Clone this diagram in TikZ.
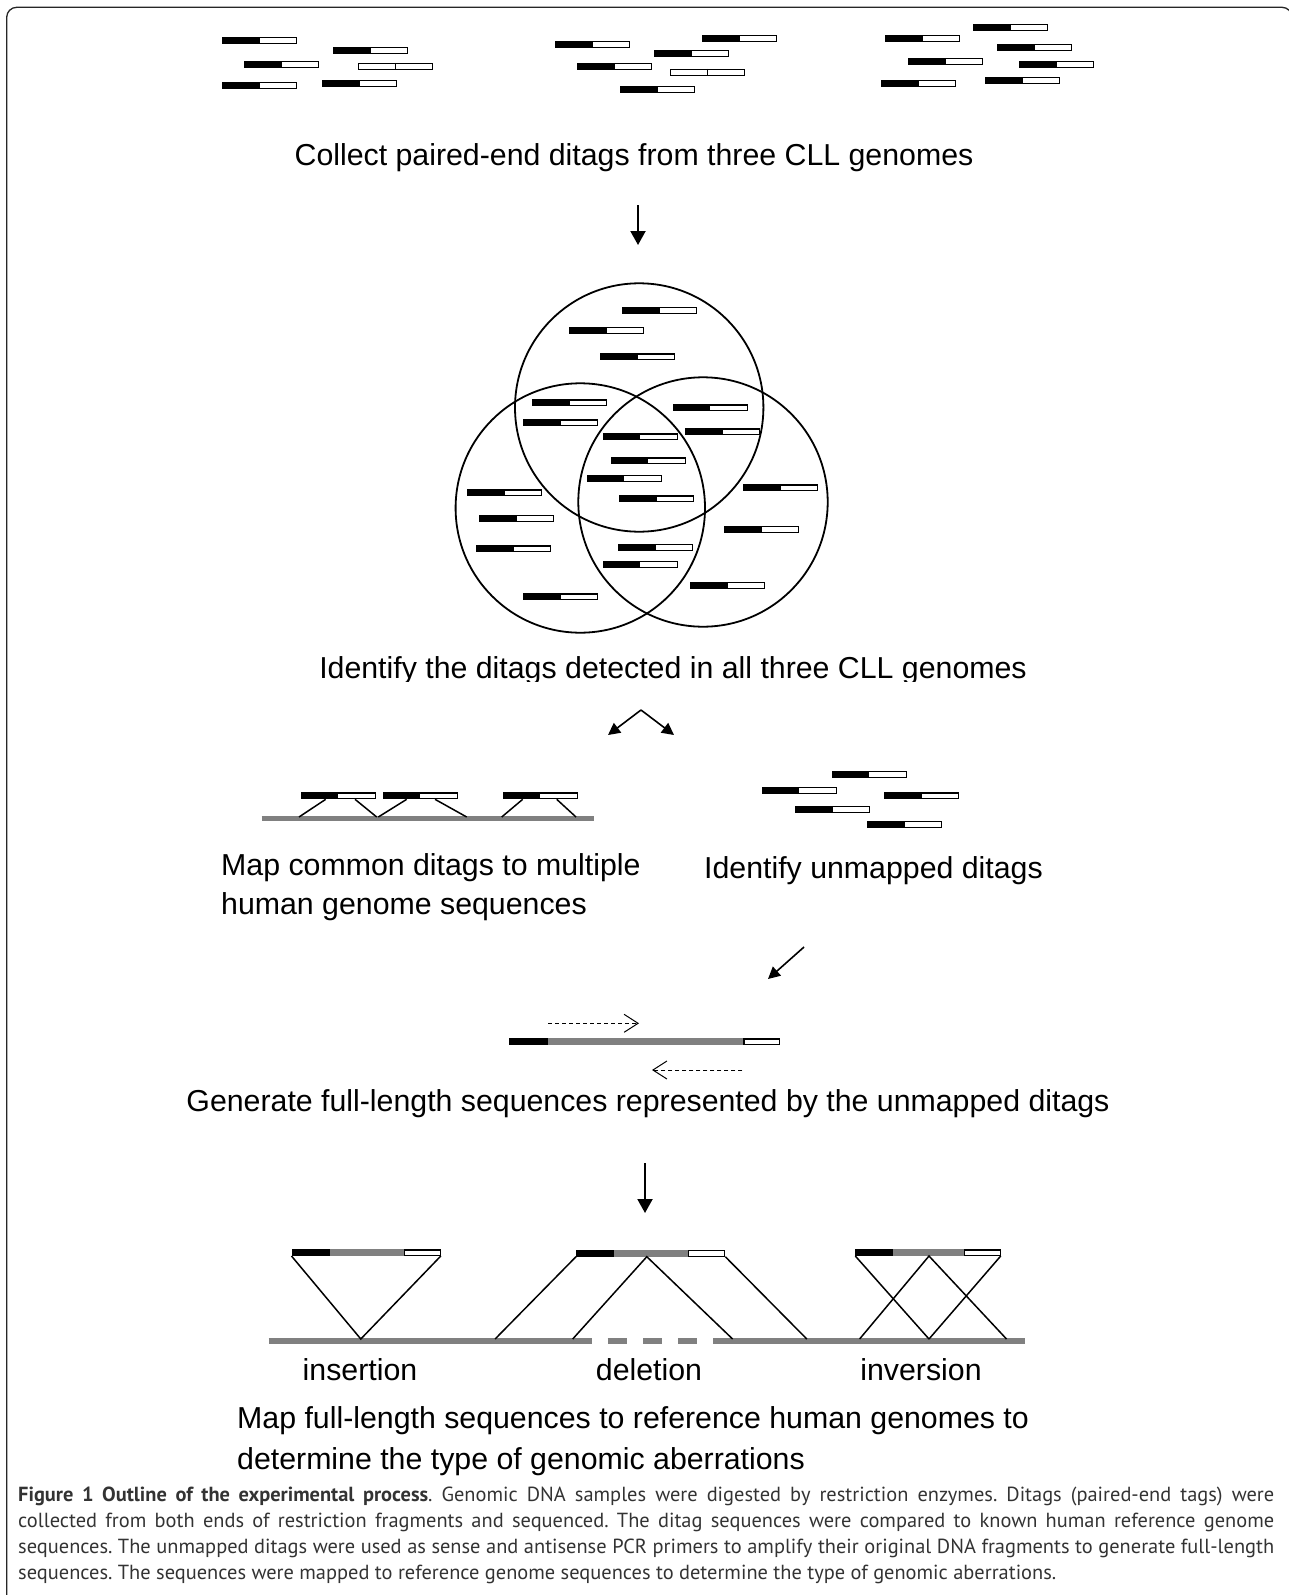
\documentclass[tikz,border=0pt]{standalone}
\usepackage{fontspec}
\setmainfont{Liberation Sans}
\newfontfamily\capfont{PT Sans}
\usetikzlibrary{arrows.meta}
\definecolor{seqgray}{HTML}{808080}
\definecolor{capcol}{HTML}{333333}
\newcommand\seqbar[5]{%
  \fill[black] (#1,#5) rectangle (#2,#5+7);
  \fill[seqgray] (#2,#5) rectangle (#3,#5+7);
  \draw[line width=1.2pt, fill=white] (#3+0.6,#5+0.6) rectangle (#4-0.6,#5+6.4);}
\tikzset{
  dtag/.pic={\fill[white] (0,0) rectangle (75,7);
             \fill[black] (0,0) rectangle (37.5,7);
             \draw[line width=1.2pt] (0.6,0.6) rectangle (74.4,6.4);},
  wtag/.pic={\draw[line width=1.2pt, fill=white] (0.6,0.6) rectangle (74.4,6.4);
             \draw[line width=1.2pt] (37.5,0) -- (37.5,7);},
  lbl/.style={font=\fontsize{30.3}{36}\selectfont, inner sep=0pt},
  bigarr/.style={line width=2pt, -{Triangle[length=14pt,width=15pt]}},
  smallarr/.style={line width=1.6pt, -{Triangle[length=12pt,width=12pt]}},
  dasharr/.style={line width=1pt, dash pattern=on 4pt off 3pt, -{Straight Barb[length=14pt,width=18pt,line width=1pt]}},
  venn/.style={line width=1.8pt},
  conn/.style={line width=1.5pt},
  gline/.style={draw=seqgray, line width=5.7pt},
}
\begin{document}
\begin{tikzpicture}[x=1pt,y=-1pt]
\useasboundingbox (0,0) rectangle (1289,1595);
% frame
\draw[line width=1.3pt, black!85, rounded corners=10pt] (6.7,1600) -- (6.7,7.3) -- (1292,7.3) -- (1292,1600);

% top clusters
\pic at (222,37) {dtag};
\pic at (333,47) {dtag};
\pic at (244,61) {dtag};
\pic at (358,63) {wtag};
\pic at (222,82) {dtag};
\pic at (322,80) {dtag};

\pic at (555,41) {dtag};
\pic at (654,50) {dtag};
\pic at (702,35) {dtag};
\pic at (577,63) {dtag};
\pic at (670,69) {wtag};
\pic at (620,86) {dtag};

\pic at (885,35) {dtag};
\pic at (973,24) {dtag};
\pic at (997,44) {dtag};
\pic at (908,58) {dtag};
\pic at (1019,61) {dtag};
\pic at (881,80) {dtag};
\pic at (985,77) {dtag};

\node[lbl, anchor=base] (t1) at (634,165) {Collect paired-end ditags from three CLL genomes};

\coordinate (a1s) at (638,205);
\coordinate (a1e) at (638,245);
\draw[bigarr] (a1s) -- (a1e);

% Venn
\draw[venn] (639.2,407.5) circle[radius=124.2pt];
\draw[venn] (580.3,508) circle[radius=124.7pt];
\draw[venn] (703,502) circle[radius=124.7pt];

\pic at (622.3,306.7) {dtag};
\pic at (569,326.7) {dtag};
\pic at (600,353.3) {dtag};
\pic at (532.3,399.3) {dtag};
\pic at (672.7,404.3) {dtag};
\pic at (523.3,419.3) {dtag};
\pic at (685,428.3) {dtag};
\pic at (602.7,433.3) {dtag};
\pic at (610.7,457.3) {dtag};
\pic at (586.7,474.7) {dtag};
\pic at (619,495.3) {dtag};
\pic at (467.3,489.3) {dtag};
\pic at (743.3,484.3) {dtag};
\pic at (479,515) {dtag};
\pic at (724,526) {dtag};
\pic at (476,545.3) {dtag};
\pic at (618,543.7) {dtag};
\pic at (602.7,561) {dtag};
\pic at (690,582) {dtag};
\pic at (523,593.3) {dtag};

\begin{scope}
\clip (0,640) rectangle (1289,681);
\node[lbl, anchor=base] (t2) at (673,678.5) {Identify the ditags detected in all three CLL genomes};
\end{scope}

% fork arrow
\coordinate (fa) at (641,710);
\coordinate (fl) at (608,735);
\coordinate (fr) at (674,735);
\draw[smallarr] (fa) -- (fl);
\draw[smallarr] (fa) -- (fr);

% left mapping
\draw[draw=seqgray, line width=4.5pt] (261.7,818.3) -- (594,818.3);
\pic at (300.7,792.3) {dtag};
\pic at (382.7,792.3) {dtag};
\pic at (502.7,792.3) {dtag};
\draw[conn] (325.7,799.3) -- (299,817);
\draw[conn] (355,799.3) -- (376.7,817);
\draw[conn] (406.7,799.3) -- (378.3,817);
\draw[conn] (435,799.3) -- (466.7,817);
\draw[conn] (522.7,799.3) -- (501.7,817);
\draw[conn] (556.7,799.3) -- (576,817);

\node[lbl, anchor=base west] (t3a) at (221,875) {Map common ditags to multiple};
\node[lbl, anchor=base west] (t3b) at (221,914) {human genome sequences};

% unmapped
\pic at (831.7,770.7) {dtag};
\pic at (761.7,786.7) {dtag};
\pic at (884.3,792.3) {dtag};
\pic at (795,805.7) {dtag};
\pic at (867.3,820.7) {dtag};
\node[lbl, anchor=base west] (t4) at (704,878) {Identify unmapped ditags};

\coordinate (d1) at (804,947);
\coordinate (d2) at (768,979);
\draw[smallarr] (d1) -- (d2);

% PCR sequence
\seqbar{509.3}{548.3}{743.3}{780}{1038.3}
\coordinate (p1s) at (548.3,1023.3);
\coordinate (p1e) at (639,1023.3);
\coordinate (p2s) at (742.3,1070);
\coordinate (p2e) at (652,1070);
\draw[dasharr] (p1s) -- (p1e);
\draw[dasharr] (p2s) -- (p2e);

\node[lbl, anchor=base] (t5) at (648,1111) {Generate full-length sequences represented by the unmapped ditags};

\coordinate (a3s) at (645,1163);
\coordinate (a3e) at (645,1213);
\draw[bigarr] (a3s) -- (a3e);

% aberrations
\draw[gline] (268.6,1341) -- (592,1341);
\draw[gline] (607.6,1341) -- (627,1341);
\draw[gline] (643,1341) -- (662.3,1341);
\draw[gline] (677.8,1341) -- (697.2,1341);
\draw[gline] (713,1341) -- (1024.5,1341);

\seqbar{291.5}{330.3}{404}{440.8}{1249.3}
\seqbar{576}{613.9}{688}{725.3}{1250}
\seqbar{855.3}{892.6}{963.8}{1000.7}{1249.3}

\draw[conn] (291.5,1256) -- (360.8,1339) -- (440.8,1256);
\draw[conn] (576,1256.7) -- (495.1,1339);
\draw[conn] (572.7,1339) -- (646.8,1256.7) -- (732.6,1339);
\draw[conn] (725.3,1256.7) -- (806.8,1339);
\draw[conn] (855.3,1256) -- (929,1339);
\draw[conn] (859.6,1339) -- (929,1256) -- (1006.5,1339);
\draw[conn] (1000.7,1256) -- (929,1339);

\node[lbl, anchor=base] (l1) at (360,1380) {insertion};
\node[lbl, anchor=base] (l2) at (649,1380) {deletion};
\node[lbl, anchor=base] (l3) at (921,1380) {inversion};

\node[lbl, anchor=base west] (t6a) at (237,1428.5) {Map full-length sequences to reference human genomes to};
\node[lbl, anchor=base west] (t6b) at (237,1469) {determine the type of genomic aberrations};

% caption
\node[anchor=base west, inner sep=0pt, text=capcol] (cap) at (18,1501.7) {\parbox[t]{1256pt}{\capfont\fontsize{20.4}{25.8}\selectfont\frenchspacing
\hyphenpenalty=10000 \exhyphenpenalty=10000 \emergencystretch=30pt
\textbf{Figure 1 Outline of the experimental process}. Genomic DNA samples were digested by restriction enzymes. Ditags (paired-end tags) were\linebreak
collected from both ends of restriction fragments and sequenced. The ditag sequences were compared to known human reference genome\linebreak
sequences. The unmapped ditags were used as sense and antisense PCR primers to amplify their original DNA fragments to generate full-length\linebreak
sequences. The sequences were mapped to reference genome sequences to determine the type of genomic aberrations.}};
\end{tikzpicture}
\end{document}
